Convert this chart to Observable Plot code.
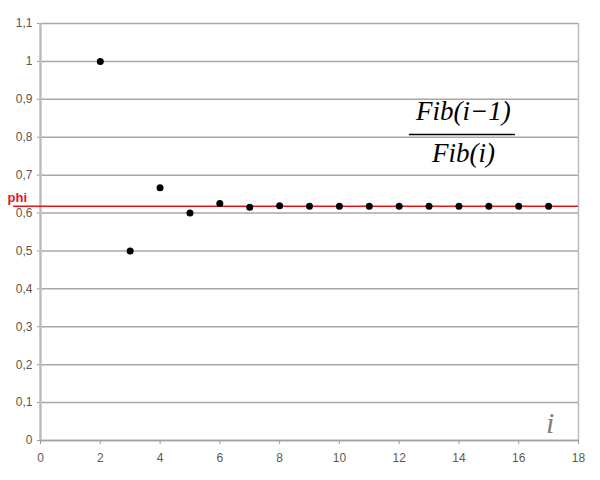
<!DOCTYPE html>
<html>
<head>
<meta charset="utf-8">
<script src="https://cdn.jsdelivr.net/npm/d3@7"></script>
<script src="https://cdn.jsdelivr.net/npm/@observablehq/plot@0.6"></script>
<style>
  html, body { margin: 0; padding: 0; background: #fff; }
</style>
</head>
<body>
<div id="chart"></div>
<script>
// Data: i and Fib(i-1)/Fib(i)
const iValues = [2, 3, 4, 5, 6, 7, 8, 9, 10, 11, 12, 13, 14, 15, 16, 17];
const ratios = [1, 0.5, 0.6667, 0.6, 0.625, 0.6154, 0.619, 0.6176, 0.6182, 0.618, 0.618, 0.618, 0.618, 0.618, 0.618, 0.618];
const phi = 0.618034;
const xTicks = [0, 2, 4, 6, 8, 10, 12, 14, 16, 18];
const yTicks = [0, 0.1, 0.2, 0.3, 0.4, 0.5, 0.6, 0.7, 0.8, 0.9, 1, 1.1];
const yTickLabels = ["0", "0,1", "0,2", "0,3", "0,4", "0,5", "0,6", "0,7", "0,8", "0,9", "1", "1,1"];
const phiLabel = "phi";
const numeratorText = "Fib(i\u22121)";
const denominatorText = "Fib(i)";
const axisLabelText = "i";

const points = iValues.map((x, k) => ({x, y: ratios[k]}));

const labelColor = "#62574a";
const serif = "'Liberation Serif', 'Times New Roman', 'DejaVu Serif', serif";

const chart = Plot.plot({
  width: 600,
  height: 480,
  marginLeft: 40,
  marginRight: 22,
  marginTop: 23,
  marginBottom: 40,
  style: {fontFamily: "Liberation Sans, Arial, sans-serif", fontSize: "12px", background: "#fff", overflow: "visible"},
  x: {domain: [0, 18]},
  y: {domain: [0, 1.1]},
  marks: [
    Plot.gridY(yTicks, {stroke: "#a8a8a8", strokeOpacity: 1, strokeWidth: 1.5}),
    Plot.axisY({ticks: yTicks, tickFormat: d => yTickLabels[yTicks.indexOf(d)], tickSize: 3, tickPadding: 5, stroke: "#999", color: labelColor, fontSize: 12, label: null}),
    Plot.axisX({ticks: xTicks, tickSize: 4, tickPadding: 9, stroke: "#999", color: labelColor, fontSize: 12, label: null}),
    Plot.ruleX([0], {stroke: "#bdbdbd", strokeWidth: 2.5}),
    Plot.ruleX([18], {stroke: "#bdbdbd", strokeWidth: 1.5}),
    Plot.ruleY([0], {stroke: "#a0a0a0", strokeWidth: 1.5}),
    Plot.ruleY([phi], {x1: -0.9, x2: 18, stroke: "#e8141c", strokeWidth: 1.5, clip: false}),
    Plot.text([phiLabel], {x: -1.1, y: 0.64, text: d => d, textAnchor: "start", fill: "#e8141c", fontWeight: "bold", fontSize: 13, clip: false}),
    Plot.dot(points, {x: "x", y: "y", r: 3.5, fill: "#000", stroke: "none"}),
    Plot.text([numeratorText], {x: 14.15, y: 0.868, text: d => d, fontSize: 27, fill: "#000"}),
    Plot.ruleY([0.807], {x1: 12.34, x2: 15.89, stroke: "#000", strokeWidth: 1.5}),
    Plot.text([denominatorText], {x: 14.15, y: 0.757, text: d => d, fontSize: 27, fill: "#000"}),
    Plot.text([axisLabelText], {x: 17.05, y: 0.045, text: d => d, fontSize: 30, fill: "#808080"})
  ]
});
const serifTexts = new Set([numeratorText, denominatorText, axisLabelText]);
chart.querySelectorAll("text").forEach(t => {
  if (serifTexts.has(t.textContent)) {
    t.style.fontFamily = serif;
    t.style.fontStyle = "italic";
  }
});
document.getElementById("chart").appendChild(chart);
</script>
</body>
</html>
